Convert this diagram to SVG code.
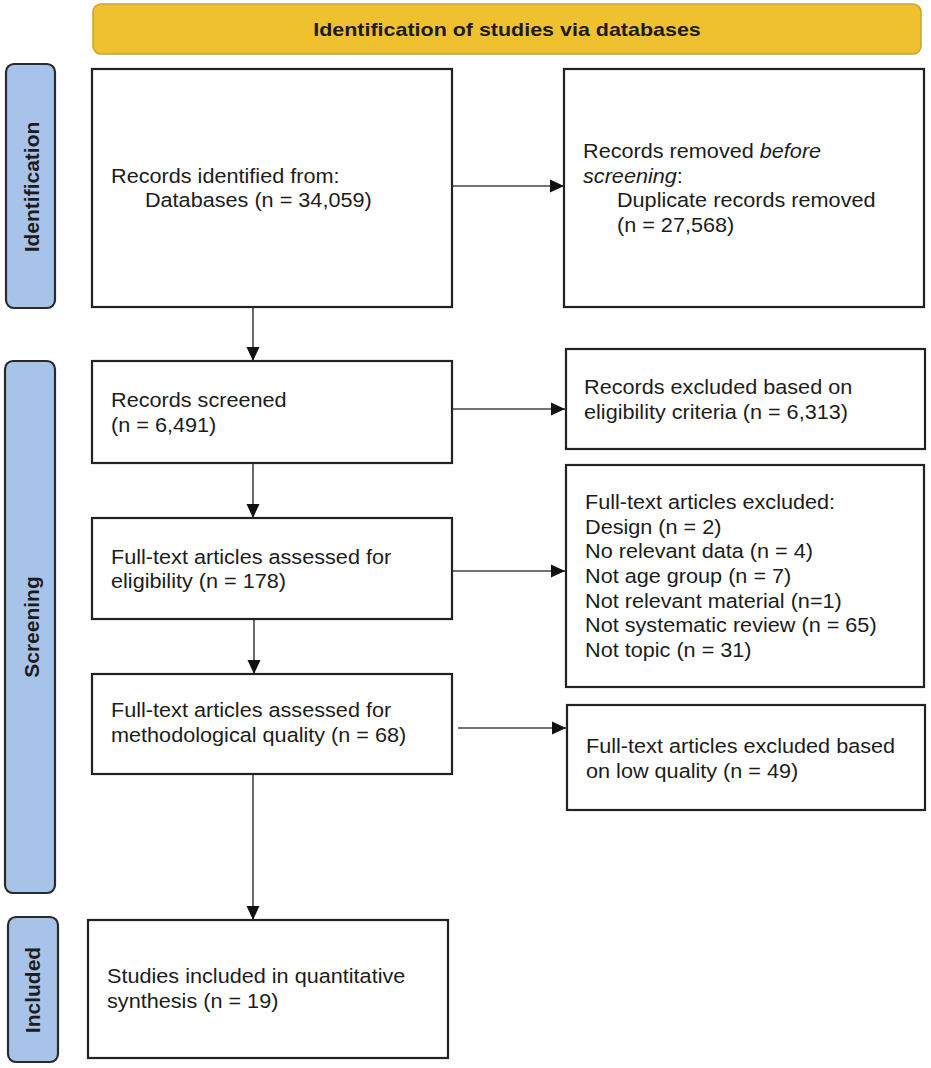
<svg xmlns="http://www.w3.org/2000/svg" width="931" height="1068" viewBox="0 0 931 1068">
<defs>
<style>
.box{fill:#fff;stroke:#222;stroke-width:2.2}
.side{fill:#a8c3e9;stroke:#2a2a2a;stroke-width:2.2}
.hdr{fill:#f0c12e;stroke:#c9a230;stroke-width:1.5}
.t{font-family:"Liberation Sans",Arial,sans-serif;font-size:19.5px;fill:#1c1c1c}
.b{font-family:"Liberation Sans",Arial,sans-serif;font-size:19px;font-weight:bold;fill:#1c1c1c}
.s{font-family:"Liberation Sans",Arial,sans-serif;font-size:21px;font-weight:bold;fill:#1c1c1c}
.c{stroke:#444;stroke-width:1.6;fill:none}
</style>
<marker id="ah" markerUnits="userSpaceOnUse" markerWidth="16" markerHeight="16" viewBox="0 0 16 16" refX="15" refY="8" orient="auto">
<path d="M1,1.5 L15,8 L1,14.5 Z" fill="#111"/>
</marker>
</defs>
<rect width="931" height="1068" fill="#fff"/>

<g id="header">
<rect class="hdr" x="93" y="4" width="828" height="50" rx="8"/>
<text class="b" text-anchor="middle" transform="translate(507 36) scale(1.13 1)">Identification of studies via databases</text>
</g>

<g id="side-identification">
<rect class="side" x="6" y="64" width="49" height="244" rx="8"/>
<text class="s" text-anchor="middle" transform="translate(39 187) rotate(-90)">Identification</text>
</g>
<g id="side-screening">
<rect class="side" x="5" y="361" width="50" height="532" rx="8"/>
<text class="s" text-anchor="middle" transform="translate(39 627) rotate(-90)">Screening</text>
</g>
<g id="side-included">
<rect class="side" x="8" y="917" width="50" height="145" rx="8"/>
<text class="s" text-anchor="middle" transform="translate(40 990) rotate(-90)">Included</text>
</g>

<g id="connectors">
<line class="c" x1="452" y1="186" x2="564" y2="186" marker-end="url(#ah)"/>
<line class="c" x1="253" y1="307" x2="253" y2="361" marker-end="url(#ah)"/>
<line class="c" x1="452" y1="409" x2="565" y2="409" marker-end="url(#ah)"/>
<line class="c" x1="253" y1="463" x2="253" y2="518" marker-end="url(#ah)"/>
<line class="c" x1="452" y1="571" x2="565" y2="571" marker-end="url(#ah)"/>
<line class="c" x1="254" y1="619" x2="254" y2="674" marker-end="url(#ah)"/>
<line class="c" x1="458" y1="728" x2="566" y2="728" marker-end="url(#ah)"/>
<line class="c" x1="253" y1="774" x2="253" y2="920" marker-end="url(#ah)"/>
</g>

<g id="records-identified">
<rect class="box" x="92" y="69" width="360" height="238"/>
<text class="t" transform="translate(111 183) scale(1.11 1)"><tspan x="0" y="0">Records identified from:</tspan><tspan x="30.6" y="24">Databases (n = 34,059)</tspan></text>
</g>

<g id="records-removed">
<rect class="box" x="564" y="69" width="360" height="238"/>
<text class="t" transform="translate(583 158) scale(1.11 1)"><tspan x="0" y="0">Records removed <tspan font-style="italic">before</tspan></tspan><tspan x="0" y="25"><tspan font-style="italic">screening</tspan>:</tspan><tspan x="30.6" y="49">Duplicate records removed</tspan><tspan x="30.6" y="74">(n = 27,568)</tspan></text>
</g>

<g id="records-screened">
<rect class="box" x="92" y="361" width="360" height="102"/>
<text class="t" transform="translate(111 407) scale(1.11 1)"><tspan x="0" y="0">Records screened</tspan><tspan x="0" y="25">(n = 6,491)</tspan></text>
</g>

<g id="records-excluded">
<rect class="box" x="566" y="349" width="359" height="100"/>
<text class="t" transform="translate(584 394) scale(1.11 1)"><tspan x="0" y="0">Records excluded based on</tspan><tspan x="0" y="25">eligibility criteria (n = 6,313)</tspan></text>
</g>

<g id="fulltext-eligibility">
<rect class="box" x="92" y="518" width="360" height="101"/>
<text class="t" transform="translate(111 564) scale(1.11 1)"><tspan x="0" y="0">Full-text articles assessed for</tspan><tspan x="0" y="24">eligibility (n = 178)</tspan></text>
</g>

<g id="fulltext-excluded">
<rect class="box" x="566" y="465" width="358" height="222"/>
<text class="t" transform="translate(585 509) scale(1.11 1)"><tspan x="0" y="0">Full-text articles excluded:</tspan><tspan x="0" y="24.7">Design (n = 2)</tspan><tspan x="0" y="49.4">No relevant data (n = 4)</tspan><tspan x="0" y="74.1">Not age group (n = 7)</tspan><tspan x="0" y="98.8">Not relevant material (n=1)</tspan><tspan x="0" y="123.5">Not systematic review (n = 65)</tspan><tspan x="0" y="148.2">Not topic (n = 31)</tspan></text>
</g>

<g id="fulltext-quality">
<rect class="box" x="92" y="674" width="360" height="100"/>
<text class="t" transform="translate(111 717) scale(1.11 1)"><tspan x="0" y="0">Full-text articles assessed for</tspan><tspan x="0" y="25">methodological quality (n = 68)</tspan></text>
</g>

<g id="excluded-low-quality">
<rect class="box" x="567" y="705" width="358" height="105"/>
<text class="t" transform="translate(586 753) scale(1.11 1)"><tspan x="0" y="0">Full-text articles excluded based</tspan><tspan x="0" y="25">on low quality (n = 49)</tspan></text>
</g>

<g id="studies-included">
<rect class="box" x="88" y="920" width="360" height="138"/>
<text class="t" transform="translate(107 983) scale(1.11 1)"><tspan x="0" y="0">Studies included in quantitative</tspan><tspan x="0" y="25">synthesis (n = 19)</tspan></text>
</g>
</svg>
